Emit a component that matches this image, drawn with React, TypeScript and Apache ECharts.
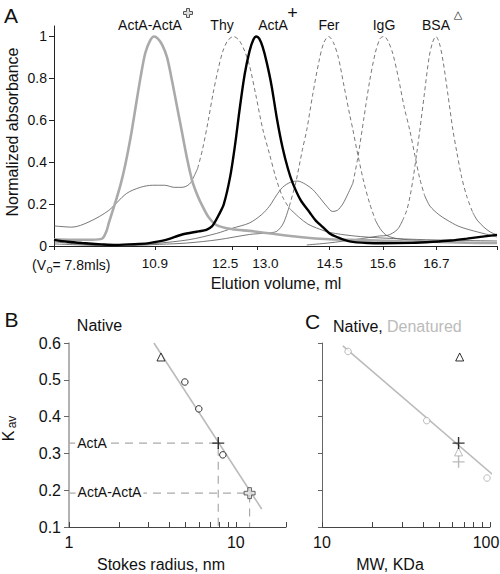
import React, { useEffect, useRef } from "react";
import * as echarts from "echarts";

const FONT = "'Liberation Sans', Arial, Helvetica, sans-serif";

// ---------- Panel A: elution profiles [elution volume (ml), normalized absorbance]
const actaActaTrace: number[][] = [
  [8.82, 0.032], [9.2, 0.03], [9.6, 0.03], [9.81, 0.035], [9.9, 0.07], [9.95, 0.11], [10.1, 0.22], [10.2, 0.3],
  [10.3, 0.4], [10.4, 0.52], [10.5, 0.66], [10.6, 0.8], [10.7, 0.92], [10.8, 0.98], [10.88, 1.0], [10.96, 0.99],
  [11.05, 0.96], [11.15, 0.9], [11.26, 0.78], [11.36, 0.66], [11.46, 0.54], [11.56, 0.42], [11.67, 0.31],
  [11.78, 0.24], [11.88, 0.19], [12.0, 0.14], [12.17, 0.1], [12.5, 0.08], [12.85, 0.072], [13.2, 0.062],
  [13.88, 0.043], [14.5, 0.032], [15.2, 0.028], [16.0, 0.022], [16.6, 0.02], [17.3, 0.016], [17.95, 0.014],
];
const actaTrace: number[][] = [
  [8.82, 0.029], [9.1, 0.02], [9.4, 0.014], [9.8, 0.008], [10.1, 0.005], [10.57, 0.01], [10.78, 0.014],
  [11.13, 0.029], [11.46, 0.055], [11.8, 0.07], [11.96, 0.077], [12.08, 0.095], [12.15, 0.12], [12.22, 0.15],
  [12.32, 0.2], [12.45, 0.33], [12.55, 0.48], [12.65, 0.66], [12.75, 0.82], [12.85, 0.93], [12.93, 0.985],
  [12.99, 1.0], [13.05, 0.99], [13.12, 0.95], [13.2, 0.88], [13.3, 0.77], [13.42, 0.6], [13.53, 0.47],
  [13.64, 0.37], [13.74, 0.3], [13.9, 0.22], [14.09, 0.16], [14.22, 0.12], [14.36, 0.09], [14.5, 0.06],
  [14.65, 0.043], [14.91, 0.022], [15.3, 0.014], [15.6, 0.013], [16.2, 0.015], [16.63, 0.02], [17.0, 0.026],
  [17.33, 0.035], [17.65, 0.045], [17.95, 0.053],
];
// standards: tails (solid) and peaks (dashed)
const thyTailLeft: number[][] = [
  [8.82, 0.096], [9.19, 0.09], [9.54, 0.115], [9.95, 0.17], [10.31, 0.25], [10.6, 0.28], [10.85, 0.29],
  [11.1, 0.29], [11.3, 0.28], [11.46, 0.28], [11.61, 0.295], [11.7, 0.33], [11.78, 0.37],
];
const thyPeak: number[][] = [
  [11.78, 0.37], [11.88, 0.46], [12.0, 0.6], [12.1, 0.73], [12.2, 0.84], [12.3, 0.93], [12.4, 0.98], [12.52, 1.0],
  [12.64, 0.98], [12.75, 0.93], [12.85, 0.86], [12.98, 0.72], [13.12, 0.56], [13.26, 0.44], [13.4, 0.32],
  [13.53, 0.235], [13.67, 0.18],
];
const thyTailRight: number[][] = [
  [13.67, 0.18], [13.88, 0.135], [14.05, 0.105], [14.23, 0.086], [14.5, 0.065], [15.0, 0.048], [15.6, 0.038],
  [16.5, 0.03], [17.95, 0.024],
];
const ferTailLeft: number[][] = [
  [8.82, 0.01], [9.5, 0.004], [10.1, 0.0], [11.0, 0.008], [11.55, 0.014], [12.2, 0.03], [12.85, 0.055],
  [13.2, 0.062], [13.41, 0.07], [13.55, 0.11], [13.67, 0.19],
];
const ferPeak: number[][] = [
  [13.67, 0.19], [13.8, 0.3], [13.94, 0.46], [14.03, 0.555], [14.15, 0.72], [14.28, 0.88], [14.38, 0.97],
  [14.48, 1.0], [14.58, 0.97], [14.68, 0.9], [14.8, 0.76], [14.92, 0.62], [14.98, 0.555], [15.06, 0.46],
  [15.2, 0.31], [15.33, 0.2], [15.45, 0.12],
];
const ferTailRight: number[][] = [
  [15.45, 0.12], [15.55, 0.08], [15.68, 0.05], [15.9, 0.035], [16.15, 0.029], [16.8, 0.02], [17.95, 0.015],
];
const iggTailLeft: number[][] = [
  [8.82, 0.02], [9.3, 0.01], [9.8, 0.005], [10.4, 0.006], [10.9, 0.012], [11.6, 0.03], [12.17, 0.06],
  [12.5, 0.085], [12.85, 0.11], [13.1, 0.15], [13.26, 0.19], [13.4, 0.24], [13.53, 0.28], [13.7, 0.305],
  [13.84, 0.31], [14.0, 0.295], [14.15, 0.27], [14.3, 0.23], [14.44, 0.19], [14.56, 0.165], [14.66, 0.17],
  [14.77, 0.2], [14.88, 0.25], [14.98, 0.3],
];
const iggPeak: number[][] = [
  [14.98, 0.3], [15.08, 0.42], [15.2, 0.6], [15.32, 0.78], [15.44, 0.92], [15.54, 0.99], [15.62, 1.0],
  [15.7, 0.98], [15.8, 0.92], [15.92, 0.8], [16.04, 0.66], [16.15, 0.555], [16.26, 0.43], [16.36, 0.32],
  [16.46, 0.24],
];
const iggTailRight: number[][] = [
  [16.46, 0.24], [16.57, 0.19], [16.75, 0.15], [16.92, 0.124], [17.15, 0.095], [17.39, 0.077], [17.7, 0.058],
  [17.95, 0.043],
];
const bsaTailLeft: number[][] = [
  [14.03, 0.005], [14.5, 0.015], [15.0, 0.03], [15.3, 0.04], [15.53, 0.048], [15.68, 0.05], [15.89, 0.077],
  [16.0, 0.12],
];
const bsaPeak: number[][] = [
  [16.0, 0.12], [16.09, 0.17], [16.16, 0.24], [16.22, 0.32], [16.3, 0.45], [16.36, 0.555], [16.45, 0.72],
  [16.55, 0.9], [16.62, 0.97], [16.69, 1.0], [16.76, 0.97], [16.84, 0.88], [16.94, 0.72], [17.04, 0.555],
  [17.12, 0.45], [17.22, 0.33], [17.33, 0.235], [17.45, 0.16],
];
const bsaTailRight: number[][] = [
  [17.45, 0.16], [17.54, 0.124], [17.68, 0.09], [17.81, 0.067], [17.95, 0.053],
];
const elutionTicks = [10.9, 12.5, 13.0, 14.5, 15.6, 16.7];
const elutionMin = 8.82;
const elutionMax = 17.95;
const absTicks = [0, 0.2, 0.4, 0.6, 0.8, 1];

// ---------- Panel B: Kav vs Stokes radius (nm)
const stdRadius = [4.95, 6.0, 8.36];
const stdKav = [0.494, 0.421, 0.296];
const bsaRadius = [3.56];
const bsaKav = [0.562];
const actaRadius = 7.85;
const actaKav = 0.328;
const dimerRadius = 12.1;
const dimerKav = 0.192;
const stokesFit = [[3.23, 0.6], [14.3, 0.149]];
const stokesLabelTicks = [1, 10];
const stokesMinorTicks = [1, 2, 3, 4, 5, 6, 7, 8, 9, 10, 20];
const kavTicks = [0.1, 0.2, 0.3, 0.4, 0.5, 0.6];

// ---------- Panel C: Kav vs MW (kDa)
const denatMW = [14.3, 42, 96];
const denatKav = [0.577, 0.389, 0.233];
const denatActaTriMW = [65];
const denatActaTriKav = [0.304];
const denatActaPlusMW = [65];
const denatActaPlusKav = [0.277];
const nativeTriMW = [66];
const nativeTriKav = [0.562];
const nativePlusMW = [65];
const nativePlusKav = [0.328];
const mwFit = [[13.3, 0.592], [113, 0.228]];
const mwLabelTicks = [10, 100];
const mwMinorTicks = [10, 20, 30, 40, 50, 60, 70, 80, 90, 100];

const PLUS = "path://M4.4,0H5.6V4.4H10V5.6H5.6V10H4.4V5.6H0V4.4H4.4Z";
const CROSS = "path://M3,0H6V3H9V6H6V9H3V6H0V3H3Z";

function crossPts(cx: number, cy: number, s: number) {
  const a = s / 2, b = s / 6;
  return [
    [cx - b, cy - a], [cx + b, cy - a], [cx + b, cy - b], [cx + a, cy - b], [cx + a, cy + b], [cx + b, cy + b],
    [cx + b, cy + a], [cx - b, cy + a], [cx - b, cy + b], [cx - a, cy + b], [cx - a, cy - b], [cx - b, cy - b],
  ];
}

function txt(text: string, x: number, y: number, size: number, extra: any = {}, styleExtra: any = {}) {
  return {
    type: "text", x, y, z: 100, ...extra,
    style: { text, fontSize: size, fontFamily: FONT, fill: "#111", align: "center", verticalAlign: "middle", ...styleExtra },
  };
}

const thin = (data: number[][], dashed: boolean) => ({
  type: "line", xAxisIndex: 0, yAxisIndex: 0, data, symbol: "none", smooth: 0.3, z: 2, silent: true,
  lineStyle: { color: "#555", width: 0.8, type: dashed ? [4, 3] : "solid" },
});

const lg = (arr: number[]) => arr.map((v) => Math.log10(v));
const zipLog = (xs: number[], ys: number[]) => xs.map((x, i) => [Math.log10(x), ys[i]]);

function buildOption(): any {
  const axisLbl = (size: number) => ({ fontSize: size, fontFamily: FONT, color: "#111" });
  const series: any[] = [
    thin(thyTailLeft, false), thin(thyPeak, true), thin(thyTailRight, false),
    thin(ferTailLeft, false), thin(ferPeak, true), thin(ferTailRight, false),
    thin(iggTailLeft, false), thin(iggPeak, true), thin(iggTailRight, false),
    thin(bsaTailLeft, false), thin(bsaPeak, true), thin(bsaTailRight, false),
    {
      type: "line", xAxisIndex: 0, yAxisIndex: 0, data: actaActaTrace, symbol: "none", smooth: 0.3, z: 3,
      lineStyle: { color: "#aaaaaa", width: 2.6 },
    },
    {
      type: "line", xAxisIndex: 0, yAxisIndex: 0, data: actaTrace, symbol: "none", smooth: 0.3, z: 4,
      lineStyle: { color: "#000", width: 2.4 },
    },
    // Panel B
    {
      type: "line", xAxisIndex: 1, yAxisIndex: 1, data: stokesFit.map(([r, k]) => [Math.log10(r), k]),
      symbol: "none", z: 2, lineStyle: { color: "#bbbbbb", width: 1.6 },
    },
    {
      type: "line", xAxisIndex: 1, yAxisIndex: 1, symbol: "none", z: 1,
      data: [[0, actaKav], [Math.log10(actaRadius), actaKav], [Math.log10(actaRadius), kavTicks[0]]],
      lineStyle: { color: "#aaaaaa", width: 1.2, type: [8, 6] },
    },
    {
      type: "line", xAxisIndex: 1, yAxisIndex: 1, symbol: "none", z: 1,
      data: [[0, dimerKav], [Math.log10(dimerRadius), dimerKav], [Math.log10(dimerRadius), kavTicks[0]]],
      lineStyle: { color: "#aaaaaa", width: 1.2, type: [8, 6] },
    },
    {
      type: "scatter", xAxisIndex: 1, yAxisIndex: 1, data: zipLog(stdRadius, stdKav), symbol: "circle", symbolSize: 6.5, z: 5,
      itemStyle: { color: "#fff", borderColor: "#000", borderWidth: 1 },
    },
    {
      type: "scatter", xAxisIndex: 1, yAxisIndex: 1, data: zipLog(bsaRadius, bsaKav), symbol: "triangle", symbolSize: 8, z: 5,
      itemStyle: { color: "#fff", borderColor: "#000", borderWidth: 1 },
    },
    {
      type: "scatter", xAxisIndex: 1, yAxisIndex: 1, data: [[Math.log10(actaRadius), actaKav]], symbol: PLUS, symbolSize: 12, z: 6,
      itemStyle: { color: "#000" },
    },
    {
      type: "scatter", xAxisIndex: 1, yAxisIndex: 1, data: [[Math.log10(dimerRadius), dimerKav]], symbol: CROSS, symbolSize: 11, z: 6,
      itemStyle: { color: "#dddddd", borderColor: "#444", borderWidth: 1 },
    },
    // Panel C
    {
      type: "line", xAxisIndex: 2, yAxisIndex: 2, data: mwFit.map(([m, k]) => [Math.log10(m), k]), clip: false,
      symbol: "none", z: 2, lineStyle: { color: "#bbbbbb", width: 1.6 },
    },
    {
      type: "scatter", xAxisIndex: 2, yAxisIndex: 2, data: zipLog(denatMW, denatKav), symbol: "circle", symbolSize: 6.5, z: 5, clip: false,
      itemStyle: { color: "#fff", borderColor: "#aaaaaa", borderWidth: 1 },
    },
    {
      type: "scatter", xAxisIndex: 2, yAxisIndex: 2, data: zipLog(denatActaTriMW, denatActaTriKav), symbol: "triangle", symbolSize: 8, z: 5,
      itemStyle: { color: "#fff", borderColor: "#aaaaaa", borderWidth: 1 },
    },
    {
      type: "scatter", xAxisIndex: 2, yAxisIndex: 2, data: zipLog(denatActaPlusMW, denatActaPlusKav), symbol: PLUS, symbolSize: 12, z: 5,
      itemStyle: { color: "#aaaaaa" },
    },
    {
      type: "scatter", xAxisIndex: 2, yAxisIndex: 2, data: zipLog(nativeTriMW, nativeTriKav), symbol: "triangle", symbolSize: 8, z: 6,
      itemStyle: { color: "#fff", borderColor: "#000", borderWidth: 1 },
    },
    {
      type: "scatter", xAxisIndex: 2, yAxisIndex: 2, data: zipLog(nativePlusMW, nativePlusKav), symbol: PLUS, symbolSize: 12, z: 6,
      itemStyle: { color: "#000" },
    },
  ];

  const graphic: any[] = [
    txt("A", 11, 15, 21),
    txt("B", 11.5, 319.5, 21),
    txt("C", 312.5, 321.5, 21),
    txt("Normalized absorbance", 12, 132, 16, { rotation: Math.PI / 2 }),
    txt("(V", 46, 265, 14, {}, { align: "right" }),
    txt("o", 46.5, 269, 11, {}, { align: "left" }),
    txt("= 7.8mls)", 52.5, 265, 14, {}, { align: "left" }),
    txt("Elution volume, ml", 276, 283, 16),
    txt("ActA-ActA", 150, 25, 14),
    txt("Thy", 222, 25, 14),
    txt("ActA", 273, 25, 14),
    txt("Fer", 329, 25, 14),
    txt("IgG", 384, 25, 14),
    txt("BSA", 436, 25, 14),
    { type: "polygon", z: 100, shape: { points: crossPts(188, 13, 9) }, style: { fill: "#dddddd", stroke: "#555", lineWidth: 1 } },
    txt("+", 292.5, 13, 18),
    txt("△", 458, 14, 11, {}, { fontFamily: "'DejaVu Sans', sans-serif" }),
    txt("Native", 99.5, 325.5, 16),
    txt("Native,", 333, 326, 16, {}, { align: "left" }),
    txt("Denatured", 387, 326, 16, {}, { align: "left", fill: "#bbbbbb" }),
    txt("K", 8, 436, 16, { rotation: Math.PI / 2 }),
    txt("av", 11.5, 422, 12, { rotation: Math.PI / 2 }),
    txt("Stokes radius, nm", 161, 564, 16),
    txt("MW, KDa", 390, 564, 16),
    txt("ActA", 92, 443, 14, {}, { backgroundColor: "#fff", padding: [1, 2] }),
    txt("ActA-ActA", 109.5, 492, 14, {}, { backgroundColor: "#fff", padding: [1, 2] }),
  ];

  return {
    animation: false,
    backgroundColor: "#fff",
    textStyle: { fontFamily: FONT },
    grid: [
      { left: 54, top: 26, width: 443, height: 220, outerBoundsMode: "none" },
      { left: 69, top: 343, width: 217, height: 184, outerBoundsMode: "none" },
      { left: 322, top: 343, width: 168, height: 184, outerBoundsMode: "none" },
    ],
    xAxis: [
      {
        gridIndex: 0, type: "value", min: elutionMin, max: elutionMax,
        axisLine: { lineStyle: { color: "#222", width: 1 } },
        axisTick: { length: 4, customValues: [elutionMin, ...elutionTicks, elutionMax], lineStyle: { color: "#222" } },
        axisLabel: {
          ...axisLbl(13.5), customValues: elutionTicks, margin: 10,
          formatter: (v: number) => {
            const s = v.toFixed(1);
            if (Math.abs(v - 12.5) < 1e-6) return "{l|" + s + "}";
            if (Math.abs(v - 13.0) < 1e-6) return "{r|" + s + "}";
            return s;
          },
          rich: {
            l: { fontSize: 13.5, fontFamily: FONT, color: "#111", padding: [0, 15, 0, 0] },
            r: { fontSize: 13.5, fontFamily: FONT, color: "#111", padding: [0, 0, 0, 17] },
          },
        },
        splitLine: { show: false },
      },
      {
        gridIndex: 1, type: "value", min: 0, max: Math.log10(20),
        axisLine: { lineStyle: { color: "#444", width: 1 } },
        axisTick: { inside: true, length: 5, customValues: lg(stokesMinorTicks), lineStyle: { color: "#444" } },
        axisLabel: { ...axisLbl(16), customValues: lg(stokesLabelTicks), margin: 7, formatter: (v: number) => String(Math.round(Math.pow(10, v))) },
        splitLine: { show: false },
      },
      {
        gridIndex: 2, type: "value", min: 1, max: 2,
        axisLine: { lineStyle: { color: "#444", width: 1 } },
        axisTick: { inside: true, length: 5, customValues: lg(mwMinorTicks), lineStyle: { color: "#444" } },
        axisLabel: {
          ...axisLbl(16), customValues: lg(mwLabelTicks), margin: 7,
          formatter: (v: number) => {
            const s = String(Math.round(Math.pow(10, v)));
            return v > 1.5 ? "{e|" + s + "}" : s;
          },
          rich: { e: { fontSize: 16, fontFamily: FONT, color: "#111", padding: [0, 8, 0, 0] } },
        },
        splitLine: { show: false },
      },
    ],
    yAxis: [
      {
        gridIndex: 0, type: "value", min: 0, max: 1.05,
        axisLine: { show: true, lineStyle: { color: "#222", width: 1 } },
        axisTick: { show: true, length: 5, customValues: absTicks, lineStyle: { color: "#222" } },
        axisLabel: { ...axisLbl(14), customValues: absTicks, margin: 7, formatter: (v: number) => String(Math.round(v * 10) / 10) },
        splitLine: { show: false },
      },
      {
        gridIndex: 1, type: "value", min: 0.1, max: 0.6,
        axisLine: { show: true, lineStyle: { color: "#999", width: 1.5 } },
        axisTick: { show: true, length: 5, customValues: kavTicks, lineStyle: { color: "#666" } },
        axisLabel: { ...axisLbl(16), customValues: kavTicks, margin: 8, formatter: (v: number) => v.toFixed(1) },
        splitLine: { show: false },
      },
      {
        gridIndex: 2, type: "value", min: 0.1, max: 0.6,
        axisLine: { show: true, lineStyle: { color: "#666", width: 1 } },
        axisTick: { show: true, length: 4, customValues: kavTicks, lineStyle: { color: "#666" } },
        axisLabel: { show: false },
        splitLine: { show: false },
      },
    ],
    series,
    graphic,
  };
}

export default function App() {
  const ref = useRef<HTMLDivElement>(null);
  useEffect(() => {
    const chart = echarts.init(ref.current!, null, { renderer: "svg" });
    chart.setOption(buildOption());
    return () => chart.dispose();
  }, []);
  return (
    <div
      ref={ref}
      style={{ position: "absolute", left: 0, top: 0, width: 500, height: 574, background: "#fff" }}
    />
  );
}
